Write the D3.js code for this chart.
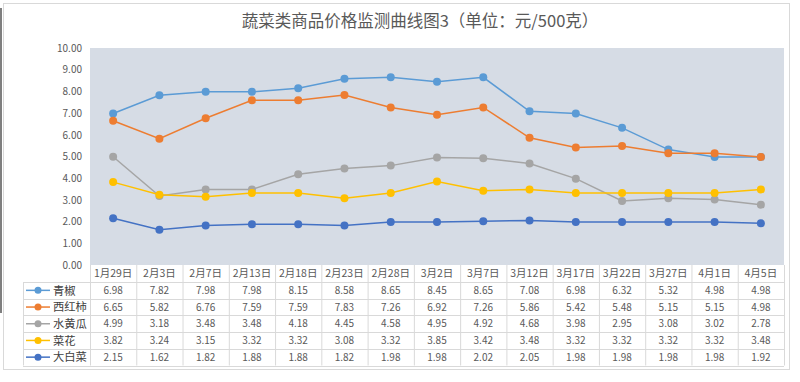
<!DOCTYPE html>
<html><head><meta charset="utf-8">
<script src="https://cdn.jsdelivr.net/npm/d3@7"></script>
<style>body{margin:0;background:#fff}svg{display:block}</style>
</head><body>
<svg id="c" width="800" height="382"></svg>
<script>
const title = "蔬菜类商品价格监测曲线图3（单位：元/500克）";
const categories = ["1月29日","2月3日","2月7日","2月13日","2月18日","2月23日","2月28日","3月2日","3月7日","3月12日","3月17日","3月22日","3月27日","4月1日","4月5日"];
const seriesNames = ["青椒","西红柿","水黄瓜","菜花","大白菜"];
const seriesColors = ["#5b9bd5","#ed7d31","#a5a5a5","#ffc000","#4472c4"];
const qingjiao = [6.98,7.82,7.98,7.98,8.15,8.58,8.65,8.45,8.65,7.08,6.98,6.32,5.32,4.98,4.98];
const xihongshi = [6.65,5.82,6.76,7.59,7.59,7.83,7.26,6.92,7.26,5.86,5.42,5.48,5.15,5.15,4.98];
const shuihuanggua = [4.99,3.18,3.48,3.48,4.18,4.45,4.58,4.95,4.92,4.68,3.98,2.95,3.08,3.02,2.78];
const caihua = [3.82,3.24,3.15,3.32,3.32,3.08,3.32,3.85,3.42,3.48,3.32,3.32,3.32,3.32,3.48];
const dabaicai = [2.15,1.62,1.82,1.88,1.88,1.82,1.98,1.98,2.02,2.05,1.98,1.98,1.98,1.98,1.92];
const yTicks = [0,1,2,3,4,5,6,7,8,9,10];

const seriesValues = [qingjiao, xihongshi, shuihuanggua, caihua, dabaicai];
const series = seriesNames.map((n,i)=>({name:n,color:seriesColors[i],values:seriesValues[i]}));

const svg = d3.select("#c");
const L=90, R=784, T=48, B=265;
const x = d3.scaleBand().domain(categories).range([L,R]);
const y = d3.scaleLinear().domain([0,10]).range([B,T]);
const cx = c => x(c)+x.bandwidth()/2;
const font = "'Noto Sans CJK SC','Microsoft YaHei',sans-serif";

// frame artifacts
svg.append("rect").attr("x",3.5).attr("y",3.5).attr("width",786).attr("height",366)
  .attr("fill","#fff").attr("stroke","#d9d9d9");
svg.append("line").attr("x1",1).attr("x2",1).attr("y1",8).attr("y2",313).attr("stroke","#555").attr("stroke-width",1.5);

// title
svg.append("text").attr("x",420).attr("y",27).attr("text-anchor","middle")
  .attr("font-family",font).attr("font-size",16.5).attr("fill","#595959").text(title);

// plot background
svg.append("rect").attr("x",L).attr("y",T).attr("width",R-L).attr("height",B-T).attr("fill","#d6dce5");

// y axis labels
const yAxis = d3.axisLeft(y).tickValues(yTicks).tickFormat(d3.format(".2f")).tickSize(0).tickPadding(8);
const ya = svg.append("g").attr("transform",`translate(${L},0)`).call(yAxis);
ya.select(".domain").remove();
ya.selectAll("text").attr("font-family",font).attr("font-size",10).attr("fill","#595959");

// lines and markers
const line = d3.line().x((d,i)=>cx(categories[i])).y(d=>y(d));
series.forEach(s=>{
  svg.append("path").attr("d",line(s.values)).attr("fill","none").attr("stroke",s.color).attr("stroke-width",1.5);
  svg.append("g").selectAll("circle").data(s.values).join("circle")
    .attr("cx",(d,i)=>cx(categories[i])).attr("cy",d=>y(d)).attr("r",4).attr("fill",s.color);
});

// data table
const rowTop = 282, rowH = 16.7, legL = 23;
const grid = "#d9d9d9";
const tg = svg.append("g");
tg.selectAll("text.cat").data(categories).join("text").attr("class","cat")
  .attr("x",d=>cx(d)).attr("y",277).attr("text-anchor","middle")
  .attr("font-family",font).attr("font-size",10.5).attr("fill","#595959").text(d=>d);
const vx = categories.map(c=>x(c)).concat([R]);
vx.forEach(v=>tg.append("line").attr("x1",v+0.5).attr("x2",v+0.5).attr("y1",B).attr("y2",rowTop+rowH*5).attr("stroke",grid));
tg.append("line").attr("x1",legL+0.5).attr("x2",legL+0.5).attr("y1",rowTop).attr("y2",rowTop+rowH*5).attr("stroke",grid);
for(let r=0;r<=5;r++){
  const yy = Math.round(rowTop+rowH*r)+0.5;
  tg.append("line").attr("x1",legL).attr("x2",R).attr("y1",yy).attr("y2",yy).attr("stroke",grid);
}
series.forEach((s,r)=>{
  const yc = rowTop+rowH*r+rowH/2;
  tg.append("line").attr("x1",26).attr("x2",50).attr("y1",yc).attr("y2",yc).attr("stroke",s.color).attr("stroke-width",1.5);
  tg.append("circle").attr("cx",38).attr("cy",yc).attr("r",3.5).attr("fill",s.color);
  tg.append("text").attr("x",53).attr("y",yc+4.2).attr("font-family",font).attr("font-size",11.3).attr("fill","#404040").text(s.name);
  tg.selectAll(null).data(s.values).join("text")
    .attr("x",(d,i)=>cx(categories[i])).attr("y",yc+3.5).attr("text-anchor","middle")
    .attr("font-family",font).attr("font-size",10).attr("fill","#595959").text(d=>d.toFixed(2));
});
</script>
</body></html>
